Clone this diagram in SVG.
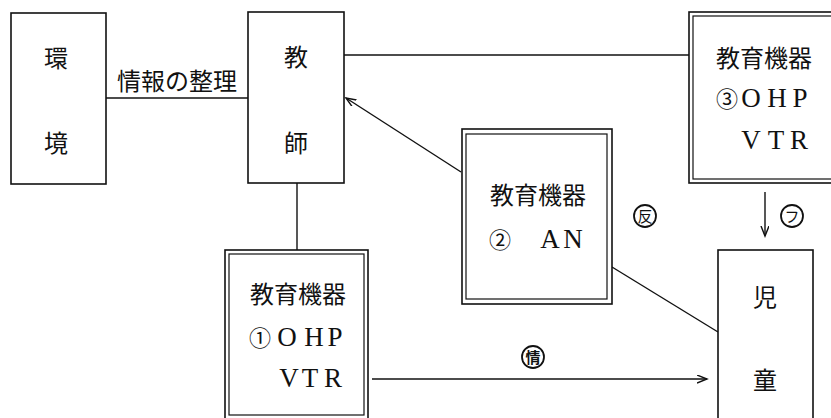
<svg xmlns="http://www.w3.org/2000/svg" width="831" height="418" viewBox="0 0 831 418">
<style>
.box{fill:#fff;stroke:#111;stroke-width:1.6}
.inner{fill:none;stroke:#111;stroke-width:1.2}
.ln{fill:none;stroke:#111;stroke-width:1.4}
.jp{font-family:"Noto Sans CJK JP","Noto Sans CJK SC",sans-serif;font-size:24px;fill:#111}
.lat{font-family:"Liberation Serif",serif;font-size:27px;fill:#111;text-anchor:middle}
.num{font-family:"Noto Sans CJK JP",sans-serif;font-size:22px}
.circ{font-family:"Noto Sans CJK JP",sans-serif;font-size:15px;fill:#111;text-anchor:middle}
.ring{fill:#fff;stroke:#111;stroke-width:1.8}
</style>
<defs>
<marker id="arr" markerUnits="userSpaceOnUse" markerWidth="12" markerHeight="10" refX="10" refY="4" orient="auto">
<path d="M0,0 L10,4 L0,8" fill="none" stroke="#111" stroke-width="1.4"/>
</marker>
</defs>
<rect width="831" height="418" fill="#fff"/>
<g id="connectors">
<line class="ln" x1="106" y1="98" x2="248" y2="98"/>
<line class="ln" x1="344" y1="55" x2="689" y2="55"/>
<line class="ln" x1="297" y1="183" x2="297" y2="250"/>
<line class="ln" x1="461" y1="172" x2="346" y2="98" marker-end="url(#arr)"/>
<line class="ln" x1="612" y1="267" x2="718" y2="332"/>
<line class="ln" x1="765" y1="192" x2="765" y2="236" marker-end="url(#arr)"/>
<line class="ln" x1="372" y1="379" x2="707" y2="379" marker-end="url(#arr)"/>
<text class="jp" x="117" y="90">情報の整理</text>
<g id="label-han"><circle class="ring" cx="645" cy="216" r="11"/><text class="circ" x="645" y="221.5">反</text></g>
<g id="label-fu"><circle class="ring" cx="792" cy="216" r="11"/><text class="circ" x="792" y="221.5">フ</text></g>
<g id="label-jou"><circle class="ring" cx="533" cy="357" r="11" stroke-width="2.8"/><text class="circ" x="533" y="362.5" font-weight="bold">情</text></g>
</g>
<g id="kankyo">
<rect class="box" x="11" y="13" width="95" height="171"/>
<text class="jp" x="56" y="67" text-anchor="middle">環</text>
<text class="jp" x="56" y="152" text-anchor="middle">境</text>
</g>
<g id="kyoshi">
<rect class="box" x="248" y="12" width="96" height="171"/>
<text class="jp" x="296" y="66" text-anchor="middle">教</text>
<text class="jp" x="296" y="152" text-anchor="middle">師</text>
</g>
<g id="kiki3">
<rect class="box" x="689" y="12" width="160" height="171"/>
<rect class="inner" x="693" y="16" width="150" height="163"/>
<text class="jp" x="716" y="67">教育機器</text>
<text class="lat" y="107"><tspan class="num" x="727">③</tspan><tspan x="751">O</tspan><tspan x="777">H</tspan><tspan x="800">P</tspan></text>
<text class="lat" y="149"><tspan x="751">V</tspan><tspan x="776">T</tspan><tspan x="799">R</tspan></text>
</g>
<g id="kiki2">
<rect class="box" x="462" y="129" width="150" height="175"/>
<rect class="inner" x="466" y="134" width="141" height="165"/>
<text class="jp" x="490" y="204">教育機器</text>
<text class="lat" y="248"><tspan class="num" x="500">②</tspan><tspan x="550">A</tspan><tspan x="573">N</tspan></text>
</g>
<g id="kiki1">
<rect class="box" x="225" y="250" width="143" height="180"/>
<rect class="inner" x="229" y="254" width="135" height="161"/>
<text class="jp" x="250" y="303">教育機器</text>
<text class="lat" y="346"><tspan class="num" x="260">①</tspan><tspan x="287">O</tspan><tspan x="314">H</tspan><tspan x="335">P</tspan></text>
<text class="lat" y="387"><tspan x="289">V</tspan><tspan x="310">T</tspan><tspan x="333">R</tspan></text>
</g>
<g id="jido">
<rect class="box" x="718" y="250" width="95" height="180"/>
<text class="jp" x="765" y="306" text-anchor="middle">児</text>
<text class="jp" x="765" y="389" text-anchor="middle">童</text>
</g>
</svg>
